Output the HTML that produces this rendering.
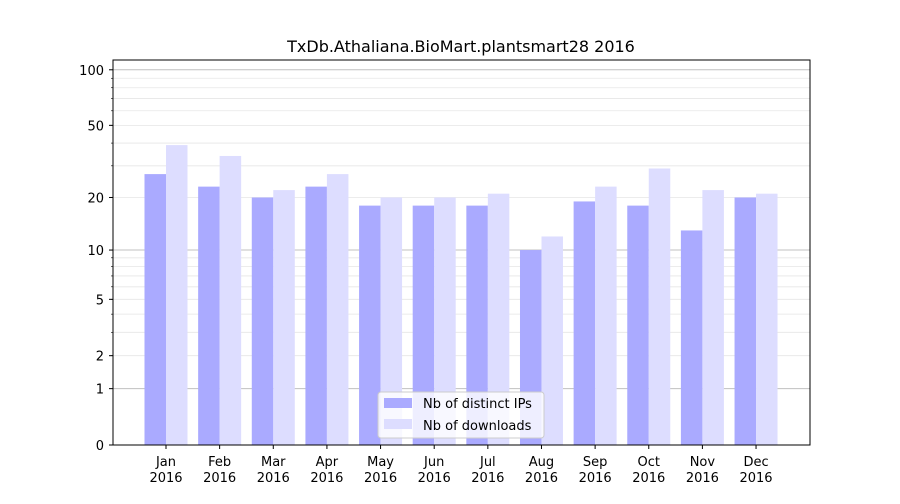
<!DOCTYPE html>
<html><head><meta charset="utf-8"><style>
body{margin:0;background:#fff;font-family:"DejaVu Sans","Liberation Sans",sans-serif;}
svg text{font-family:"DejaVu Sans","Liberation Sans",sans-serif;}
</style></head><body>
<svg id="chart" width="900" height="500" xmlns="http://www.w3.org/2000/svg">
<rect width="900" height="500" fill="#fff"/>
<text x="461" y="52" font-size="16" text-anchor="middle">TxDb.Athaliana.BioMart.plantsmart28 2016</text>
<g id="grid"></g><g id="bars"></g><g id="axes"></g>
<rect x="113" y="60" width="697" height="385" fill="none" stroke="#000" stroke-width="1"/>
<g>
<rect x="378" y="392" width="166" height="46" rx="3" fill="#fff" fill-opacity="0.8" stroke="#ccc"/>
<rect x="384" y="398" width="28" height="10" fill="#aaaaff"/>
<text x="423" y="408" font-size="13">Nb of distinct IPs</text>
<rect x="384" y="419" width="28" height="10" fill="#ddddff"/>
<text x="423" y="430" font-size="13">Nb of downloads</text>
</g>
</svg>
<script>
const months = ["Jan","Feb","Mar","Apr","May","Jun","Jul","Aug","Sep","Oct","Nov","Dec"];
const ips = [27,23,20,23,18,18,18,10,19,18,13,20];
const downloads = [39,34,22,27,20,20,21,12,23,29,22,21];
const yTicks = [0,1,2,5,10,20,50,100];
const minorTicks = [2,3,4,5,6,7,8,9,20,30,40,50,60,70,80,90];
const majorTicks = [1,10,100];
const NS="http://www.w3.org/2000/svg";
function y(v){return 445-187.2*Math.log10(1+v);}
function xc(i){return 166+i*53.64;}
function mk(tag,attrs,parent){const e=document.createElementNS(NS,tag);for(const k in attrs)e.setAttribute(k,attrs[k]);document.getElementById(parent).appendChild(e);return e;}
minorTicks.forEach(v=>{const l=mk("line",{x1:113,x2:810,y1:y(v),y2:y(v),stroke:"#e6e6e6","stroke-width":0.8},"grid");

});
majorTicks.forEach(v=>{const l=mk("line",{x1:113,x2:810,y1:y(v),y2:y(v),stroke:"#c0c0c0","stroke-width":1},"grid");

});
months.forEach((m,i)=>{
const c=xc(i);
const b1=mk("rect",{x:c-21.5,y:y(ips[i]),width:21.5,height:445-y(ips[i]),fill:"#aaaaff"},"bars");


const b2=mk("rect",{x:c,y:y(downloads[i]),width:21.5,height:445-y(downloads[i]),fill:"#ddddff"},"bars");


const t=mk("line",{x1:c,x2:c,y1:445,y2:449,stroke:"#000"},"axes");


const tx=mk("text",{x:c,y:466,"font-size":13,"text-anchor":"middle"},"axes");
tx.textContent=m;


const ty=mk("text",{x:c,y:482,"font-size":13,"text-anchor":"middle"},"axes");
ty.textContent="2016";


});
yTicks.forEach(v=>{
const t=mk("line",{x1:109,x2:113,y1:y(v),y2:y(v),stroke:"#000"},"axes");


const tx=mk("text",{x:104,y:y(v)+5,"font-size":13,"text-anchor":"end"},"axes");
tx.textContent=v;


});
minorTicks.forEach(v=>{const t=mk("line",{x1:111,x2:113,y1:y(v),y2:y(v),stroke:"#000","stroke-width":0.6},"axes");

});
</script>
</body></html>
